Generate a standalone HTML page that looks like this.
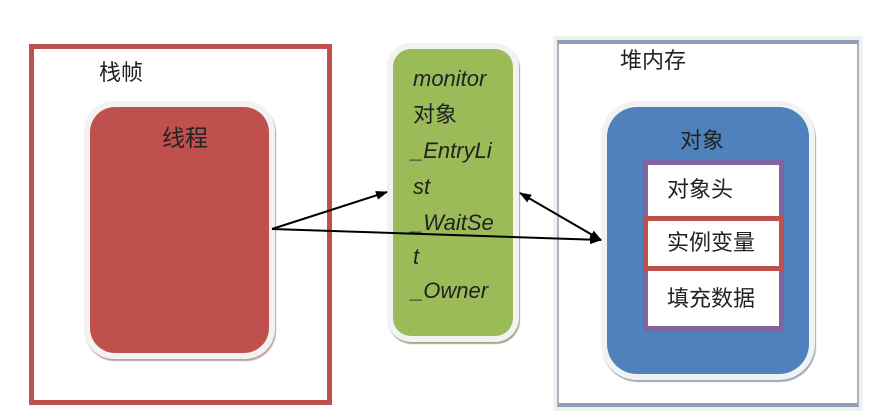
<!DOCTYPE html>
<html><head><meta charset="utf-8"><style>
body{margin:0;width:884px;height:420px;background:#fff;position:relative;overflow:hidden;font-family:"Liberation Sans","Noto Sans CJK SC",sans-serif;}
.a{position:absolute;box-sizing:border-box;}
.t{position:absolute;font-size:22px;color:#222;white-space:nowrap;line-height:1;}
.g{font-style:italic;font-family:"Liberation Sans","Noto Sans CJK SC",sans-serif;}
</style></head><body>
<div class="a" style="left:29px;top:44px;width:303px;height:361px;border:5px solid #c0504d;"></div>
<div class="t" style="left:99px;top:62px;">栈帧</div>
<div class="a" style="left:84px;top:101px;width:191px;height:258px;background:#f2f2f2;border-radius:30px;box-shadow:1px 2px 1px #c0a0a0;"></div>
<div class="a" style="left:90px;top:107px;width:179px;height:246px;background:#c0504d;border-radius:25px;"></div>
<div class="t" style="left:162px;top:127px;font-size:23px;">线程</div>

<div class="a" style="left:387px;top:43px;width:132px;height:299px;background:#f2f2f2;border-radius:24px;box-shadow:1px 2px 1px #a0a890;"></div>
<div class="a" style="left:393px;top:49px;width:120px;height:287px;background:#9bbb59;border-radius:18px;"></div>
<div class="t g" style="left:413px;top:68px;">monitor</div>
<div class="t" style="left:413px;top:104px;">对象</div>
<div class="t g" style="left:411px;top:140px;">_EntryLi</div>
<div class="t g" style="left:413px;top:176px;">st</div>
<div class="t g" style="left:411px;top:212px;">_WaitSe</div>
<div class="t g" style="left:413px;top:246px;">t</div>
<div class="t g" style="left:411px;top:280px;">_Owner</div>

<div class="a" style="left:553px;top:36px;width:310px;height:375px;background:#f0f0f0;"></div>
<div class="a" style="left:557px;top:40px;width:302px;height:367px;background:#fff;border:2px solid #a8b4c4;border-top:4px solid #8d9db3;border-bottom:4px solid #8d9db3;"></div>
<div class="t" style="left:620px;top:50px;">堆内存</div>
<div class="a" style="left:601px;top:101px;width:214px;height:279px;background:#f2f2f2;border-radius:36px;box-shadow:1px 2px 1px #a0a8b8;"></div>
<div class="a" style="left:607px;top:107px;width:202px;height:267px;background:#4f81bd;border-radius:30px;"></div>
<div class="t" style="left:680px;top:130px;">对象</div>
<div class="a" style="left:643px;top:160px;width:141px;height:171px;border:5px solid #8064a2;background:#fff;"></div>
<div class="a" style="left:643px;top:216px;width:141px;height:55px;border:5px solid #c0504d;background:#fff;"></div>
<div class="t" style="left:667px;top:179px;">对象头</div>
<div class="t" style="left:667px;top:232px;">实例变量</div>
<div class="t" style="left:667px;top:288px;">填充数据</div>

<svg class="a" style="left:0;top:0" width="884" height="420">
<defs><marker id="m" markerWidth="12" markerHeight="9" refX="11" refY="4.5" orient="auto" markerUnits="userSpaceOnUse"><path d="M0,0 L12,4.5 L0,9 z" fill="#000"/></marker>
<marker id="s" markerWidth="12" markerHeight="9" refX="1" refY="4.5" orient="auto" markerUnits="userSpaceOnUse"><path d="M12,0 L0,4.5 L12,9 z" fill="#000"/></marker></defs>
<g stroke="#000" stroke-width="2" fill="none">
<line x1="272" y1="229" x2="387" y2="192" marker-end="url(#m)"/>
<line x1="272" y1="229" x2="601" y2="240" marker-end="url(#m)"/>
<line x1="520" y1="193" x2="601" y2="240" marker-start="url(#s)" marker-end="url(#m)"/>
</g></svg>
</body></html>
